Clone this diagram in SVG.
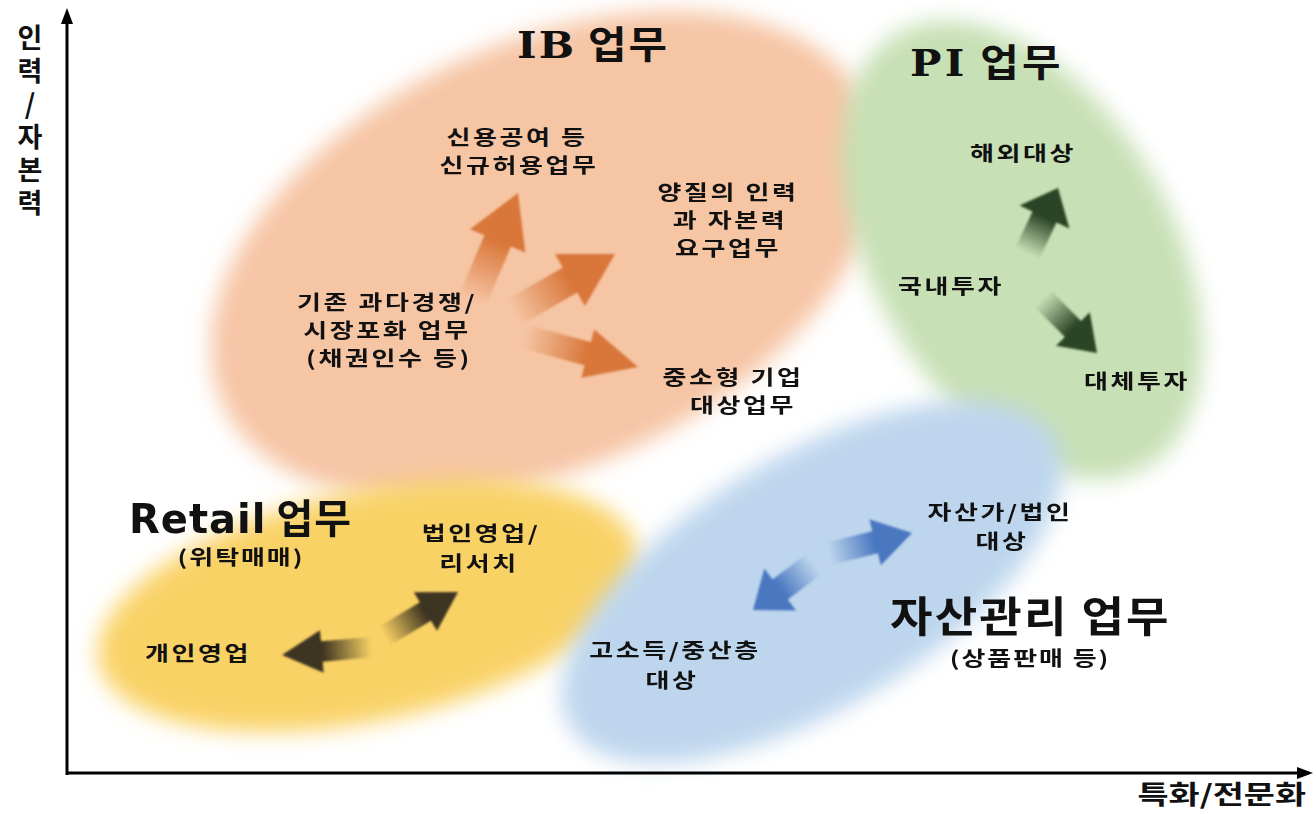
<svg xmlns="http://www.w3.org/2000/svg" width="1316" height="814" viewBox="0 0 1316 814">
<style>
.t{font-family:"Noto Sans CJK KR","Noto Sans",sans-serif;font-weight:bold;fill:#111;}
.lb{font-size:20px;text-anchor:middle;letter-spacing:2px;}
.sub{font-size:20px;text-anchor:middle;letter-spacing:1.5px;}
.ttl{font-size:38px;letter-spacing:2px;}
.lat{font-family:"DejaVu Sans","Noto Sans CJK KR",sans-serif;}
.ser{font-family:"DejaVu Serif","Noto Sans CJK KR",serif;}
</style>
<defs>
<filter id="blur" x="-30%" y="-30%" width="160%" height="160%"><feGaussianBlur stdDeviation="11"/></filter>
<filter id="ab" x="-20%" y="-20%" width="140%" height="140%"><feGaussianBlur stdDeviation="1.2"/></filter>
<linearGradient id="gO" x1="0" y1="0" x2="1" y2="0"><stop offset="0" stop-color="#d9773a" stop-opacity="0"/><stop offset="0.55" stop-color="#d9773a"/></linearGradient>
<linearGradient id="gG" x1="0" y1="0" x2="1" y2="0"><stop offset="0" stop-color="#2c4527" stop-opacity="0"/><stop offset="0.55" stop-color="#2c4527"/></linearGradient>
<linearGradient id="gY" x1="0" y1="0" x2="1" y2="0"><stop offset="0" stop-color="#3d3420" stop-opacity="0"/><stop offset="0.55" stop-color="#3d3420"/></linearGradient>
<linearGradient id="gB" x1="0" y1="0" x2="1" y2="0"><stop offset="0" stop-color="#4a77c0" stop-opacity="0"/><stop offset="0.55" stop-color="#4a77c0"/></linearGradient>
<path id="arr" d="M0,0 L-40,-25 L-40,-12 L-90,-12 L-90,12 L-40,12 L-40,25 Z"/>
</defs>
<rect width="1316" height="814" fill="#fff"/>

<g id="ib">
<ellipse cx="545" cy="255" rx="355" ry="212" transform="rotate(-25 545 255)" fill="#f6c5a4" filter="url(#blur)"/>
</g>
<g id="pi">
<ellipse cx="1022" cy="250" rx="250" ry="150" transform="rotate(60 1022 250)" fill="#c7e0b5" filter="url(#blur)"/>
</g>
<g id="retail">
<ellipse cx="368" cy="606" rx="275" ry="115" transform="rotate(-12 368 606)" fill="#f9d266" filter="url(#blur)"/>
</g>
<g id="asset">
<ellipse cx="812" cy="582" rx="282" ry="126" transform="rotate(-31 812 582)" fill="#bdd6ed" filter="url(#blur)"/>
</g>

<g id="axes" stroke="#000" stroke-width="3" fill="#000">
<line x1="67" y1="775" x2="67" y2="20"/>
<polygon points="67,8 61,24 73,24" stroke="none"/>
<line x1="66" y1="773" x2="1300" y2="773"/>
<polygon points="1313,773 1297,767 1297,779" stroke="none"/>
</g>

<g id="arrows" filter="url(#ab)">
<use href="#arr" fill="url(#gO)" transform="translate(518,193) rotate(-67) scale(1.3,1.2)"/>
<use href="#arr" fill="url(#gO)" transform="translate(615,254) rotate(-30) scale(1.3,1.2)"/>
<use href="#arr" fill="url(#gO)" transform="translate(638,367) rotate(15) scale(1.3,1.0)"/>
<use href="#arr" fill="url(#gG)" transform="translate(1058,188) rotate(-65) scale(0.8,1.1)"/>
<use href="#arr" fill="url(#gG)" transform="translate(1097,353) rotate(45) scale(0.85,0.95)"/>
<use href="#arr" fill="url(#gY)" transform="translate(282,655) rotate(175) scale(1.0,0.85)"/>
<use href="#arr" fill="url(#gY)" transform="translate(458,592) rotate(-31) scale(0.95,0.9)"/>
<use href="#arr" fill="url(#gB)" transform="translate(912,533) rotate(-14) scale(0.95,0.95)"/>
<use href="#arr" fill="url(#gB)" transform="translate(753,610) rotate(143) scale(0.85,1.05)"/>
</g>

<g id="ib-text">
<text class="t ttl" transform="translate(517,58) scale(1.1,1)"><tspan class="ser">IB</tspan> 업무</text>
<text class="t lb" transform="translate(517,145) scale(1.3,1)">신용공여 등</text>
<text class="t lb" transform="translate(519,173) scale(1.3,1)">신규허용업무</text>
<text class="t lb" transform="translate(728,200) scale(1.3,1)">양질의 인력</text>
<text class="t lb" transform="translate(730,228) scale(1.3,1)">과 자본력</text>
<text class="t lb" transform="translate(728,256) scale(1.3,1)">요구업무</text>
<text class="t lb" transform="translate(387,310) scale(1.3,1)">기존 과다경쟁/</text>
<text class="t lb" transform="translate(387,338) scale(1.3,1)">시장포화 업무</text>
<text class="t lb" transform="translate(389,366) scale(1.3,1)">(채권인수 등)</text>
<text class="t lb" transform="translate(733,385) scale(1.3,1)">중소형 기업</text>
<text class="t lb" transform="translate(743,413) scale(1.3,1)">대상업무</text>
</g>
<g id="pi-text">
<text class="t ttl" transform="translate(910,76) scale(1.1,1)" style="letter-spacing:3px"><tspan class="ser">PI</tspan> 업무</text>
<text class="t lb" transform="translate(1023,161) scale(1.3,1)">해외대상</text>
<text class="t lb" transform="translate(951,294) scale(1.3,1)">국내투자</text>
<text class="t lb" transform="translate(1137,389) scale(1.3,1)">대체투자</text>
</g>
<g id="retail-text">
<text class="t" x="129" y="533" style="font-size:40px;letter-spacing:1px"><tspan class="lat">Retail</tspan> 업무</text>
<text class="t sub" transform="translate(241,565) scale(1.3,1)">(위탁매매)</text>
<text class="t lb" transform="translate(481,541) scale(1.3,1)">법인영업/</text>
<text class="t lb" transform="translate(479,571) scale(1.3,1)">리서치</text>
<text class="t lb" transform="translate(198,661) scale(1.3,1)">개인영업</text>
</g>
<g id="asset-text">
<text class="t lb" transform="translate(1000,520) scale(1.3,1)">자산가/법인</text>
<text class="t lb" transform="translate(1002,549) scale(1.3,1)">대상</text>
<text class="t" transform="translate(890,632) scale(1.1,1)" style="font-size:42px;letter-spacing:2px">자산관리 업무</text>
<text class="t sub" transform="translate(1030,666) scale(1.3,1)">(상품판매 등)</text>
<text class="t lb" transform="translate(675,658) scale(1.3,1)">고소득/중산층</text>
<text class="t lb" transform="translate(672,688) scale(1.3,1)">대상</text>
</g>
<g id="axis-labels">
<text class="t" x="30" y="24" writing-mode="vertical-rl" style="font-size:27px;text-orientation:upright;letter-spacing:6px">인력/자본력</text>
<text class="t" transform="translate(1306,804) scale(1.3,1)" style="font-size:26px;text-anchor:end">특화/전문화</text>
</g>
</svg>
